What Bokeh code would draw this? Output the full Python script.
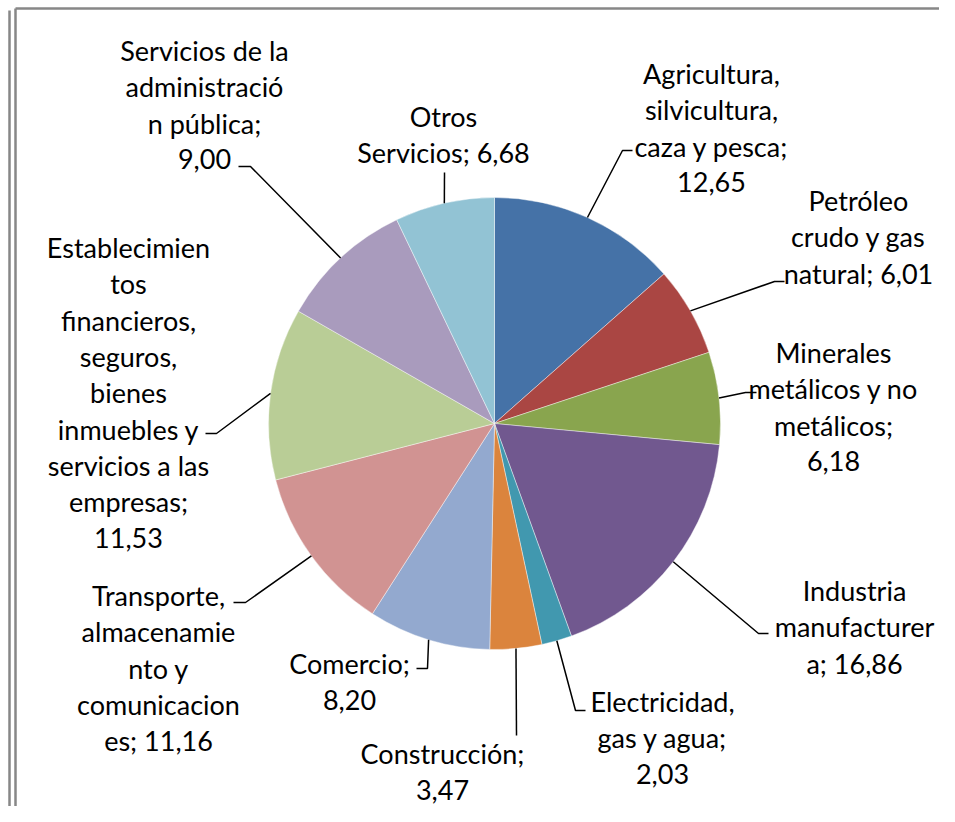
import math
from bokeh.plotting import figure
from bokeh.models import Range1d
from bokeh.core.properties import value
from bokeh.embed import file_html
from bokeh.resources import INLINE

# ---- data ----
categories = [
    "Agricultura, silvicultura, caza y pesca",
    "Petróleo crudo y gas natural",
    "Minerales metálicos y no metálicos",
    "Industria manufacturera",
    "Electricidad, gas y agua",
    "Construcción",
    "Comercio",
    "Transporte, almacenamiento y comunicaciones",
    "Establecimientos financieros, seguros, bienes inmuebles y servicios a las empresas",
    "Servicios de la administración pública",
    "Otros Servicios",
]
values = [12.65, 6.01, 6.18, 16.86, 2.03, 3.47, 8.20, 11.16, 11.53, 9.00, 6.68]
# wrapped label lines as shown in the chart ({v} = value)
label_lines = [
    ["Agricultura,", "silvicultura,", "caza y pesca;", "{v}"],
    ["Petróleo", "crudo y gas", "natural; {v}"],
    ["Minerales", "metálicos y no", "metálicos;", "{v}"],
    ["Industria", "manufacturer", "a; {v}"],
    ["Electricidad,", "gas y agua;", "{v}"],
    ["Construcción;", "{v}"],
    ["Comercio;", "{v}"],
    ["Transporte,", "almacenamie", "nto y", "comunicacion", "es; {v}"],
    ["Establecimien", "tos", "financieros,", "seguros,", "bienes", "inmuebles y",
     "servicios a las", "empresas;", "{v}"],
    ["Servicios de la", "administració", "n pública;", "{v}"],
    ["Otros", "Servicios; {v}"],
]
colors = ["#4572A7", "#AA4643", "#89A54E", "#71588F", "#4198AF", "#DB843D",
          "#93A9CF", "#D19392", "#B9CD96", "#A99BBD", "#92C3D4"]

# ---- layout (screen pixel coordinates, y downward) ----
W, H = 939, 806
CX, CY, R = 494, 423, 226
FONT = "Lato"
FS = 27
LH = 36.3
# label block: (center x, first line center y)
label_pos = [(711, 73), (858, 200), (833, 352), (854, 590), (662, 701),
             (442, 753), (349, 663), (158, 595), (128, 247), (204, 50), (443, 116)]
# leader elbow (x, y) and end x of the short horizontal tick
leader = [((622, 150), 632), ((774, 281), 784), ((745, 392), 756), ((758, 633), 768),
          ((575, 710), 585), ((516, 735), 516), ((427, 668), 416), ((245, 602), 233),
          ((216, 433), 205), ((250, 166), 238), ((444, 172), 444)]


def dy(y):
    return H - y


p = figure(width=W, height=H, output_backend="svg", toolbar_location=None,
           x_range=Range1d(0, W), y_range=Range1d(0, H),
           min_border=0, outline_line_color=None, background_fill_color="white")
p.axis.visible = False
p.grid.visible = False

total = sum(values)
starts, ends, mids = [], [], []
cum = 0.0
for v in values:
    a0 = math.pi / 2 - cum / total * 2 * math.pi
    cum += v
    a1 = math.pi / 2 - cum / total * 2 * math.pi
    starts.append(a0)
    ends.append(a1)
    mids.append((a0 + a1) / 2)

p.wedge(x=[CX] * len(values), y=[dy(CY)] * len(values), radius=R,
        start_angle=starts, end_angle=ends, direction="clock",
        fill_color=colors, line_color="white", line_width=0.6, line_alpha=0.7)

# leader lines
xs, ys = [], []
for m, ((ex, ey), tx) in zip(mids, leader):
    sx = CX + R * math.cos(m)
    sy = dy(CY) + R * math.sin(m)
    xs.append([sx, ex, tx])
    ys.append([sy, dy(ey), dy(ey)])
p.multi_line(xs=xs, ys=ys, line_color="black", line_width=1.5)

# labels
tx_, ty_, tt_ = [], [], []
for lines, v, (lx, ly) in zip(label_lines, values, label_pos):
    vs = f"{v:.2f}".replace(".", ",")
    for i, ln in enumerate(lines):
        tx_.append(lx)
        ty_.append(dy(ly + i * LH))
        tt_.append(ln.replace("{v}", vs))
p.text(x=tx_, y=ty_, text=tt_, text_font=value(FONT), text_font_size=f"{FS}px",
       text_align="center", text_baseline="middle", text_color="black")

# frame lines
g = "#878787"
p.segment(x0=[9, 15, 15], y0=[dy(10), dy(8), dy(8)], x1=[9, 15, W],
          y1=[dy(H), dy(H), dy(8)], line_color=g, line_width=2.5)

open("out.html", "w").write(file_html(p, INLINE))
